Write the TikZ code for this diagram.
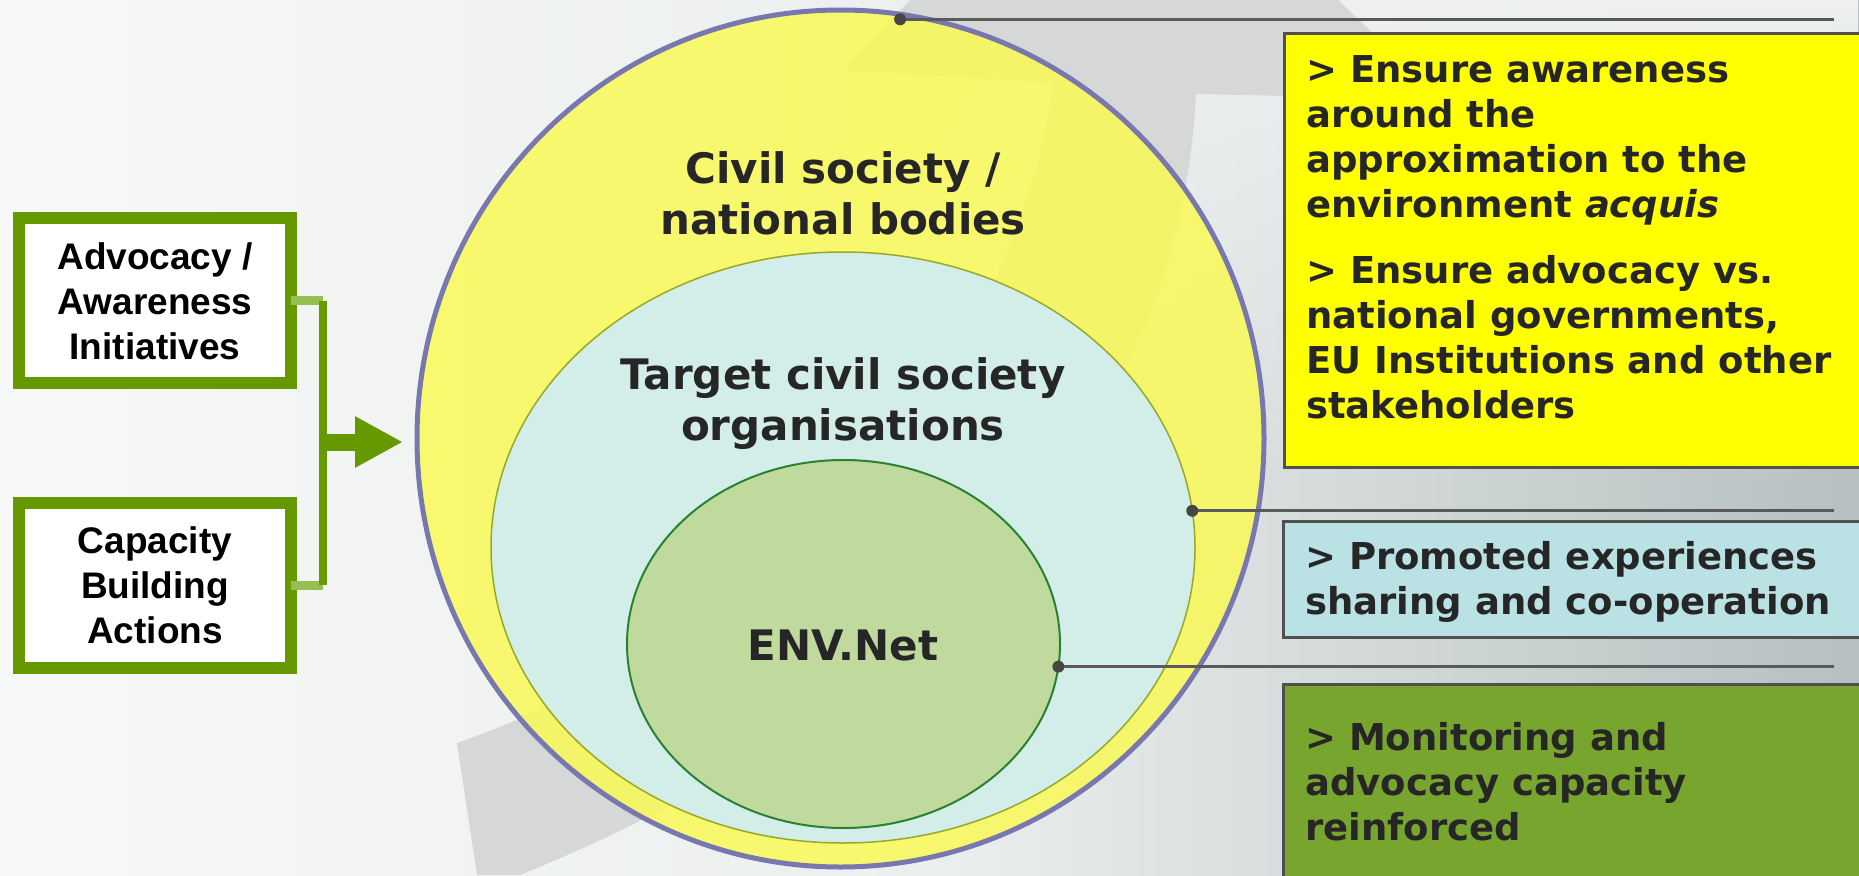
\documentclass[tikz,border=0pt]{standalone}
\usepackage{fontspec}
\newfontfamily\vfont{DejaVu Sans}
\newfontfamily\afont{Liberation Sans}
\usetikzlibrary{arrows.meta,shapes.geometric,fadings}
\definecolor{olivegr}{RGB}{102,153,0}
\definecolor{olivelt}{RGB}{150,190,80}
\definecolor{txtdark}{RGB}{38,38,38}
\definecolor{bgL}{RGB}{247,248,248}
\definecolor{bgM}{RGB}{236,239,239}
\definecolor{bgR}{RGB}{182,192,192}
\definecolor{bgtop}{RGB}{239,241,241}
\definecolor{bandc}{RGB}{214,215,215}
\definecolor{ringY}{RGB}{250,250,85}
\definecolor{ringB}{RGB}{120,120,175}
\definecolor{midC}{RGB}{210,238,240}
\definecolor{midB}{RGB}{150,170,40}
\definecolor{innG}{RGB}{190,216,150}
\definecolor{innB}{RGB}{40,130,50}
\definecolor{conC}{RGB}{90,90,90}
\definecolor{dotC}{RGB}{70,70,70}
\definecolor{boxB}{RGB}{80,80,80}
\definecolor{boxY}{RGB}{255,255,0}
\definecolor{boxC}{RGB}{186,225,227}
\definecolor{boxG}{RGB}{120,165,45}
\tikzfading[name=fadetop, top color=transparent!0, bottom color=transparent!100]
\begin{document}
\begin{tikzpicture}[x=1pt,y=-1pt,
  leftbox/.style={draw=olivegr, line width=12pt, fill=white, minimum width=272pt,
    minimum height=165pt, inner sep=0pt, outer sep=0pt, align=center, text=black,
    font=\afont\bfseries\fontsize{37}{45}\selectfont},
  rtext/.style={anchor=north west, inner sep=0pt, align=left, text=txtdark,
    font=\vfont\bfseries\fontsize{37}{45}\selectfont},
  ctext/.style={anchor=north, inner sep=0pt, align=center, text=txtdark,
    font=\vfont\bfseries\fontsize{42}{51}\selectfont},
  rbox/.style={draw=boxB, line width=3pt},
  conn/.style={draw=conC, line width=3pt},
  dotmark/.style={fill=dotC},
  brk/.style={draw=olivegr, line width=8pt},
  brkstub/.style={draw=olivelt, line width=9pt},
  circ/.style={ellipse, inner sep=0pt, outer sep=0pt}
]
\useasboundingbox (0,0) rectangle (1859,875);
\clip (0,0) rectangle (1859,875);
% background
\shade[left color=bgL, right color=bgR, middle color=bgM] (0,0) rectangle (1859,875);
\fill[bgtop, path fading=fadetop] (850,0) rectangle (1859,480);
% swoosh band
\fill[bandc] (910,0) -- (1338,0) -- (1380,40) -- (1290,96) -- (1196,94)
  .. controls (1180,420) and (950,700) .. (520,875) -- (477,875) -- (457,743)
  .. controls (750,640) and (1010,400) .. (1053,83) -- (843,70) -- cycle;
% circles
\node[circ, draw=ringB, line width=5pt, fill=ringY, fill opacity=0.84,
  minimum width=847pt, minimum height=857pt] (outer) at (840.5,438.5) {};
\node[circ, draw=midB, line width=1.5pt, fill=midC, fill opacity=0.95,
  minimum width=704pt, minimum height=591pt] (middle) at (843,547.5) {};
\node[circ, draw=innB, line width=2pt, fill=innG, fill opacity=0.9,
  minimum width=433pt, minimum height=368pt] (inner) at (843.5,644) {};
% circle labels
\node[ctext] (lblA) at (843,149) {\rule{0pt}{34pt}Civil society /\\national bodies};
\node[ctext] (lblB) at (843,355) {\rule{0pt}{34pt}Target civil society\\organisations};
\node[ctext, anchor=base] (lblC) at (843,660) {ENV.Net};
% right boxes
\path[rbox, fill=boxY] (1284,34) rectangle (1870,467);
\path[rbox, fill=boxC] (1283,521) rectangle (1870,637);
\path[rbox, fill=boxG] (1283,684) rectangle (1870,890);
\node[rtext] (tY) at (1306,52) {\rule{0pt}{30pt}> Ensure awareness\\around the\\approximation to the\\environment \textit{acquis}\\[21pt]> Ensure advocacy vs.\\national governments,\\EU Institutions and other\\stakeholders};
\node[rtext] (tC) at (1305,539) {\rule{0pt}{30pt}> Promoted experiences\\sharing and co-operation};
\node[rtext] (tG) at (1305,720) {\rule{0pt}{30pt}> Monitoring and\\advocacy capacity\\reinforced};
% connectors
\coordinate (rx) at (1834,0);
\coordinate (d1) at ([yshift=-5pt]outer.82.6);
\coordinate (d2) at (middle.6.9);
\coordinate (d3) at (inner.-6.2);
\coordinate (e1) at (d1 -| rx);
\coordinate (e2) at (d2 -| rx);
\coordinate (e3) at (d3 -| rx);
\draw[conn] (d1) -- (e1);
\draw[conn] (d2) -- (e2);
\draw[conn] (d3) -- (e3);
\fill[dotmark] (d1) circle (6pt);
\fill[dotmark] (d2) circle (6pt);
\fill[dotmark] (d3) circle (6pt);
% left side
\coordinate (jx) at (322.5,442);
\node[leftbox] (adv) at (155,300.5) {\rule{0pt}{28pt}Advocacy /\\Awareness\\Initiatives};
\node[leftbox] (cap) at (155,585) {\rule{0pt}{28pt}Capacity\\Building\\Actions};
\draw[brkstub] (adv.east) -- (adv.east -| jx);
\draw[brkstub] (cap.east) -- (cap.east -| jx);
\draw[brk] (adv.east -| jx) -- (cap.east -| jx);
\draw[draw=olivegr, line width=17pt, -{Triangle[length=48pt,width=48pt]},
  shorten >=14pt] (jx) -- (jx -| outer.west);
\end{tikzpicture}
\end{document}
